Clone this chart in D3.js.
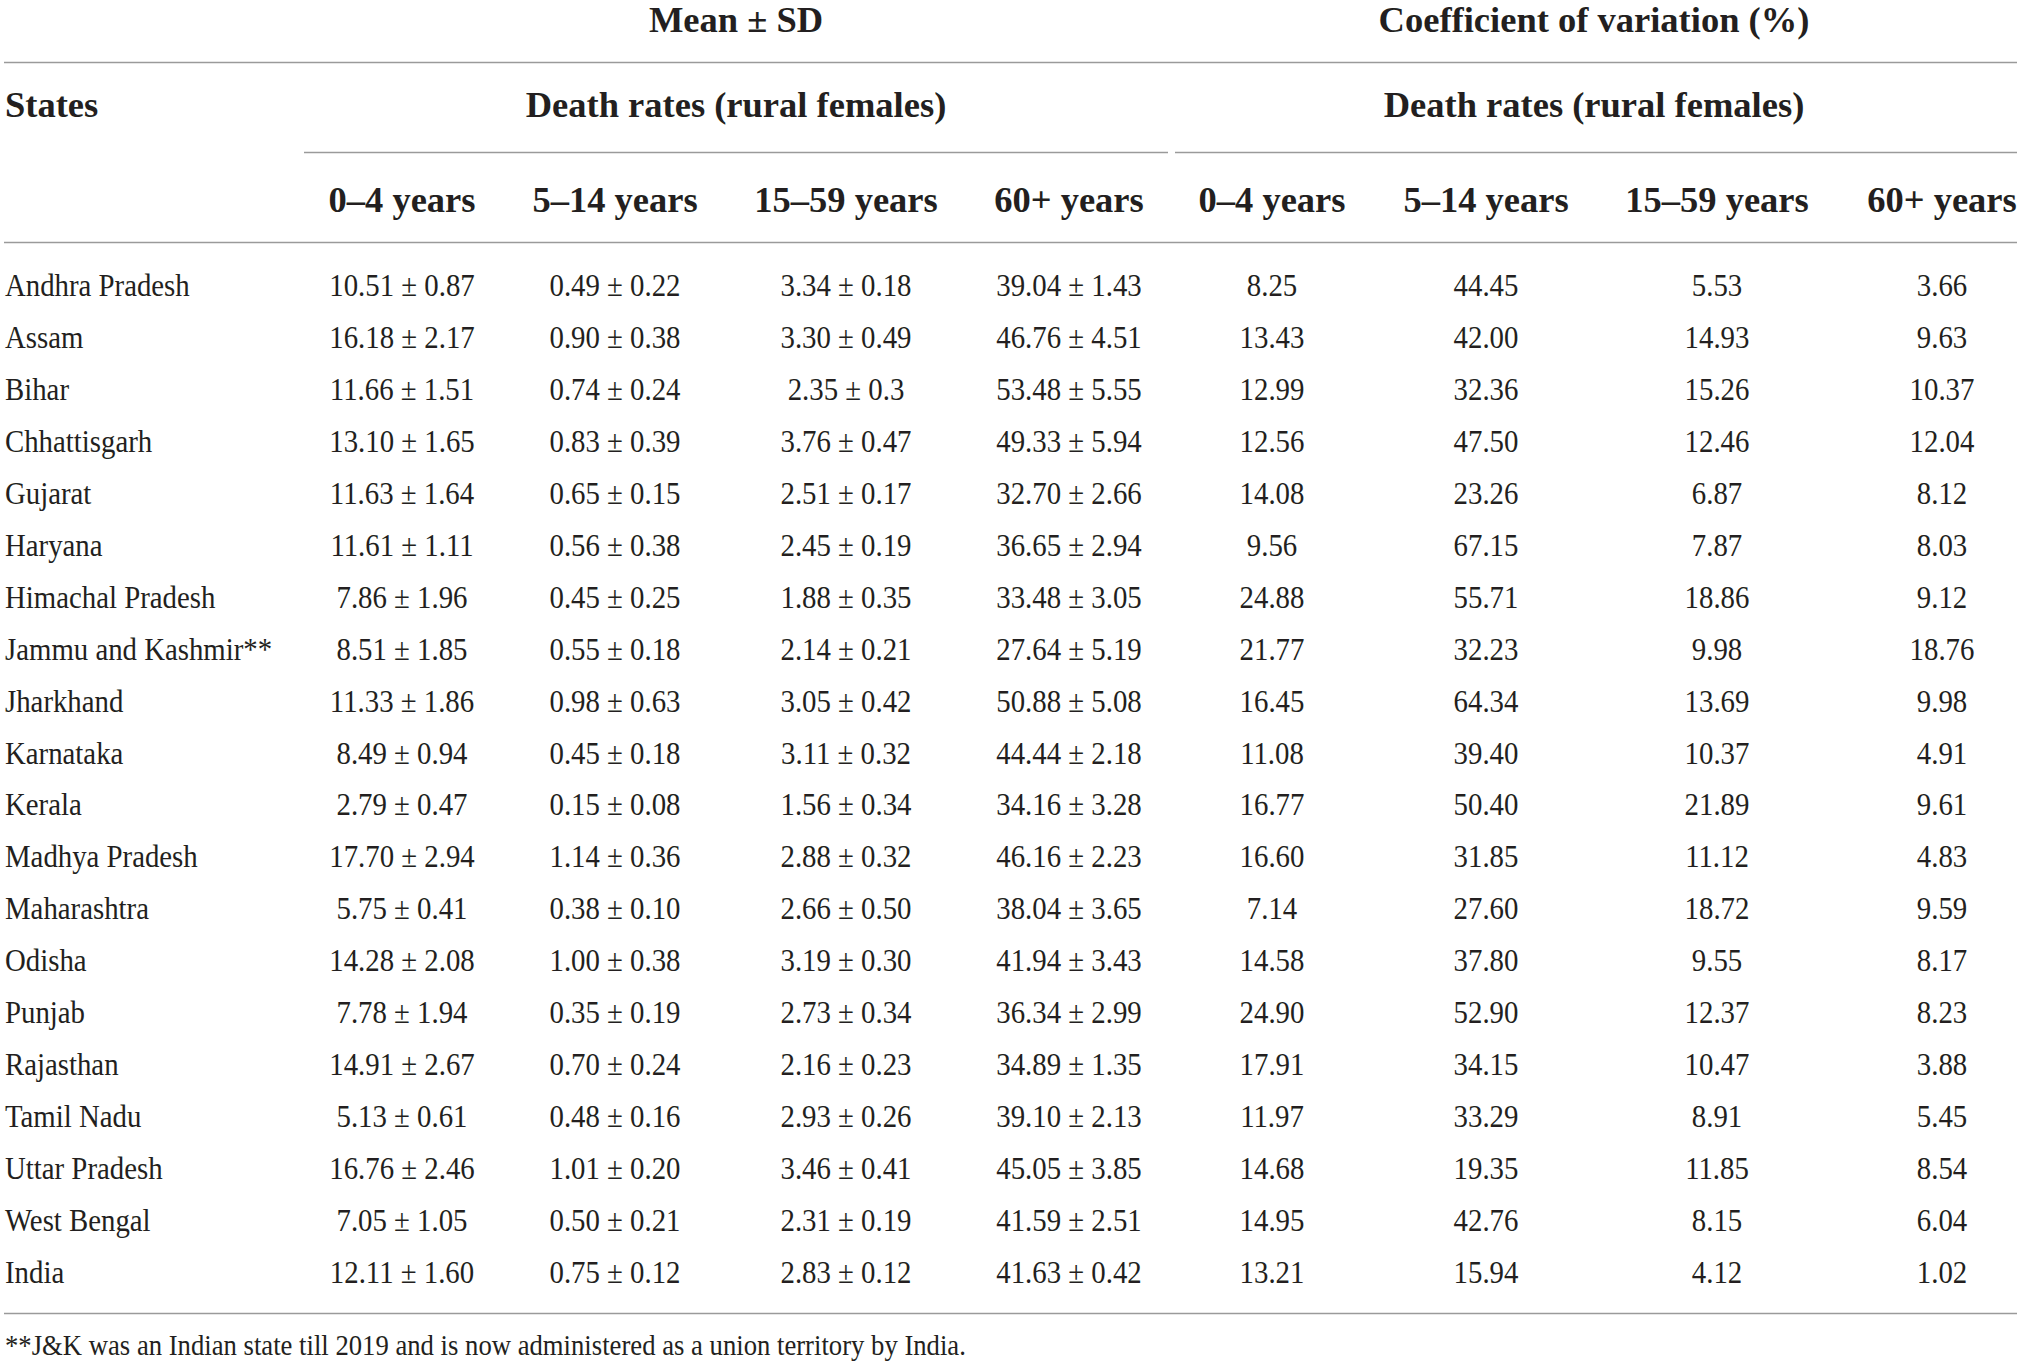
<!DOCTYPE html>
<html>
<head>
<meta charset="utf-8">
<script src="https://cdn.jsdelivr.net/npm/d3@7"></script>
<style>
  body { margin: 0; background: #fff; }
  text { font-family: "Liberation Serif", "Times New Roman", serif; fill: #231f20; }
</style>
</head>
<body>
<div id="app"></div>
<script>
// 表格数据
const states = ['Andhra Pradesh', 'Assam', 'Bihar', 'Chhattisgarh', 'Gujarat', 'Haryana', 'Himachal Pradesh',
  'Jammu and Kashmir**', 'Jharkhand', 'Karnataka', 'Kerala', 'Madhya Pradesh', 'Maharashtra', 'Odisha',
  'Punjab', 'Rajasthan', 'Tamil Nadu', 'Uttar Pradesh', 'West Bengal', 'India'];
const ageGroups = ['0–4 years', '5–14 years', '15–59 years', '60+ years'];

const mean0to4 = ['10.51', '16.18', '11.66', '13.10', '11.63', '11.61', '7.86', '8.51', '11.33', '8.49', '2.79', '17.70', '5.75', '14.28', '7.78', '14.91', '5.13', '16.76', '7.05', '12.11'];
const sd0to4 = ['0.87', '2.17', '1.51', '1.65', '1.64', '1.11', '1.96', '1.85', '1.86', '0.94', '0.47', '2.94', '0.41', '2.08', '1.94', '2.67', '0.61', '2.46', '1.05', '1.60'];
const mean5to14 = ['0.49', '0.90', '0.74', '0.83', '0.65', '0.56', '0.45', '0.55', '0.98', '0.45', '0.15', '1.14', '0.38', '1.00', '0.35', '0.70', '0.48', '1.01', '0.50', '0.75'];
const sd5to14 = ['0.22', '0.38', '0.24', '0.39', '0.15', '0.38', '0.25', '0.18', '0.63', '0.18', '0.08', '0.36', '0.10', '0.38', '0.19', '0.24', '0.16', '0.20', '0.21', '0.12'];
const mean15to59 = ['3.34', '3.30', '2.35', '3.76', '2.51', '2.45', '1.88', '2.14', '3.05', '3.11', '1.56', '2.88', '2.66', '3.19', '2.73', '2.16', '2.93', '3.46', '2.31', '2.83'];
const sd15to59 = ['0.18', '0.49', '0.3', '0.47', '0.17', '0.19', '0.35', '0.21', '0.42', '0.32', '0.34', '0.32', '0.50', '0.30', '0.34', '0.23', '0.26', '0.41', '0.19', '0.12'];
const mean60plus = ['39.04', '46.76', '53.48', '49.33', '32.70', '36.65', '33.48', '27.64', '50.88', '44.44', '34.16', '46.16', '38.04', '41.94', '36.34', '34.89', '39.10', '45.05', '41.59', '41.63'];
const sd60plus = ['1.43', '4.51', '5.55', '5.94', '2.66', '2.94', '3.05', '5.19', '5.08', '2.18', '3.28', '2.23', '3.65', '3.43', '2.99', '1.35', '2.13', '3.85', '2.51', '0.42'];

const cv0to4 = ['8.25', '13.43', '12.99', '12.56', '14.08', '9.56', '24.88', '21.77', '16.45', '11.08', '16.77', '16.60', '7.14', '14.58', '24.90', '17.91', '11.97', '14.68', '14.95', '13.21'];
const cv5to14 = ['44.45', '42.00', '32.36', '47.50', '23.26', '67.15', '55.71', '32.23', '64.34', '39.40', '50.40', '31.85', '27.60', '37.80', '52.90', '34.15', '33.29', '19.35', '42.76', '15.94'];
const cv15to59 = ['5.53', '14.93', '15.26', '12.46', '6.87', '7.87', '18.86', '9.98', '13.69', '10.37', '21.89', '11.12', '18.72', '9.55', '12.37', '10.47', '8.91', '11.85', '8.15', '4.12'];
const cv60plus = ['3.66', '9.63', '10.37', '12.04', '8.12', '8.03', '9.12', '18.76', '9.98', '4.91', '9.61', '4.83', '9.59', '8.17', '8.23', '3.88', '5.45', '8.54', '6.04', '1.02'];

const footnote = '**J&K was an Indian state till 2019 and is now administered as a union territory by India.';

// 每列的文本
const meanCols = [[mean0to4, sd0to4], [mean5to14, sd5to14], [mean15to59, sd15to59], [mean60plus, sd60plus]];
const cvCols = [cv0to4, cv5to14, cv15to59, cv60plus];
const columns = meanCols.map(([m, s]) => states.map((_, i) => m[i] + ' ± ' + s[i]))
  .concat(cvCols);

const width = 2019, height = 1366;
const svg = d3.select('#app').append('svg').attr('width', width).attr('height', height);

// 列位置: 每列的相对宽度 -> 线性比例尺
const colWeights = [214, 212, 250, 196, 210, 218, 244, 206];
const edges = [0];
colWeights.forEach(w => edges.push(edges[edges.length - 1] + w));
const xEdge = d3.scaleLinear().domain([0, edges[edges.length - 1]]).range([295, 2045]);
const colX = i => xEdge((edges[i] + edges[i + 1]) / 2);

// 行位置 (基线)
const y = d3.scalePoint().domain(states).range([296, 1283]);

// 字形较窄较高, 横向压缩
const narrow = 0.9;
const place = (x, yy) => `translate(${x},${yy}) scale(${narrow},1)`;

const line = (x1, x2, yy) => svg.append('line')
  .attr('x1', x1).attr('x2', x2).attr('y1', yy).attr('y2', yy)
  .attr('stroke', '#9a9a9a').attr('stroke-width', 1.6);

line(4, 2017, 62.5);
line(304, 1168, 152.5);
line(1175, 2017, 152.5);
line(4, 2017, 242.5);
line(4, 2017, 1313.5);

const header = svg.append('g').attr('font-weight', 700).attr('font-size', '36.5px');
header.append('text').attr('x', 736).attr('y', 32).attr('text-anchor', 'middle').text('Mean ± SD');
header.append('text').attr('x', 1594).attr('y', 32).attr('text-anchor', 'middle').text('Coefficient of variation (%)');
header.append('text').attr('x', 5).attr('y', 117).text('States');
header.append('text').attr('x', 736).attr('y', 117).attr('text-anchor', 'middle').text('Death rates (rural females)');
header.append('text').attr('x', 1594).attr('y', 117).attr('text-anchor', 'middle').text('Death rates (rural females)');
header.selectAll('.age')
  .data(ageGroups.concat(ageGroups))
  .enter()
  .append('text')
  .attr('class', 'age')
  .attr('x', (d, i) => colX(i))
  .attr('y', 212)
  .attr('text-anchor', 'middle')
  .text(d => d);

const body = svg.append('g').attr('font-size', '32px');
body.selectAll('.state')
  .data(states)
  .enter()
  .append('text')
  .attr('class', 'state')
  .attr('transform', d => place(5, y(d)))
  .text(d => d);

columns.forEach((col, c) => {
  body.selectAll('.c' + c)
    .data(col)
    .enter()
    .append('text')
    .attr('class', 'c' + c)
    .attr('transform', (d, i) => place(colX(c), y(states[i])))
    .attr('text-anchor', 'middle')
    .text(d => d);
});

svg.append('text')
  .attr('transform', `translate(5,1355) scale(0.92,1)`)
  .attr('font-size', '29px')
  .text(footnote);
</script>
</body>
</html>
